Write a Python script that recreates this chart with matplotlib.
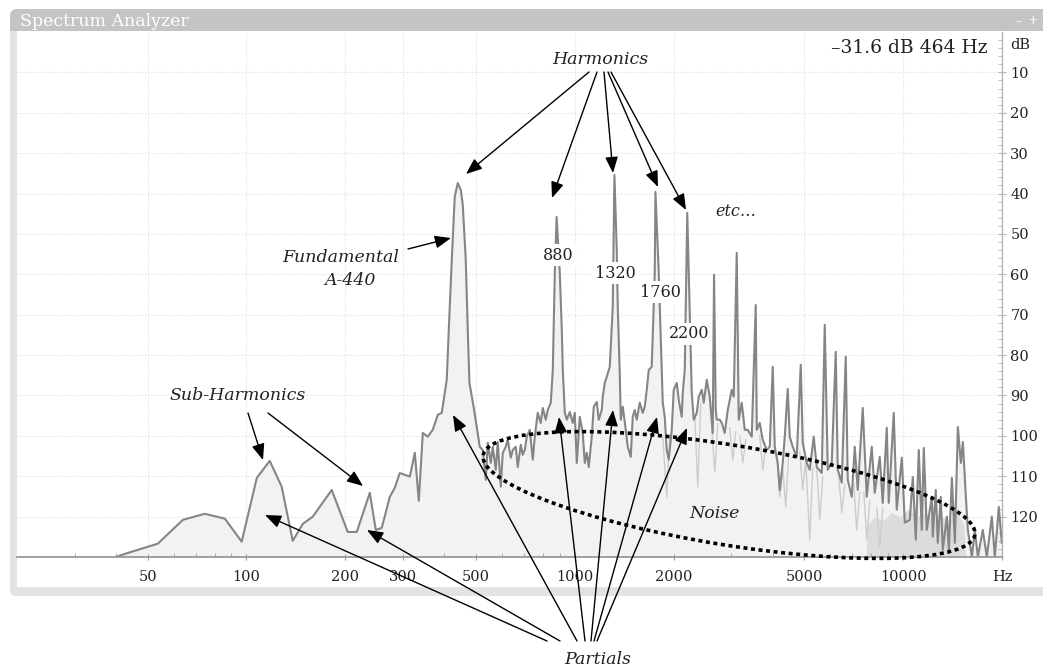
import matplotlib
matplotlib.use('Agg')
import matplotlib.pyplot as plt
from matplotlib.patches import FancyBboxPatch, Rectangle, Ellipse
from matplotlib.transforms import IdentityTransform
from matplotlib.ticker import FixedLocator, NullFormatter

W, H, DPI = 1043, 670, 100
nan = float('nan')

# ---------------- data ----------------
freq_hz = [40, 43.5, 53.7, 64.0, 74.6, 85.9, 96.7, 107.5, 117.7, 128.0,
           138.3, 148.4, 159.2, 181.8, 203.4, 216.7, 237.4, 247.6, 258.2, 273.2,
           282.8, 293.0, 314.4, 325.6, 334.8, 344.3, 356.6, 369.3, 382.4, 393.3,
           407.3, 413.1, 421.9, 430.8, 440, 449.4, 455.7, 465.4, 472.0, 477.5,
           492.2, 502.9, 513.4, 524.3, 535.5, 543.1, 554.6, 562.4, 574.4, 582.5,
           594.9, 603.3, 616.1, 624.8, 638.1, 647.1, 660.9, 670.2, 684.5, 694.1,
           704.0, 713.9, 729.1, 744.6, 755.1, 771.0, 787.4, 798.6, 815.6, 827.1,
           844.9, 856.8, 869.0, 880, 899.9, 912.6, 919.1, 932.1, 945.3, 965.4,
           985.6, 999.6, 1013.7, 1035.2, 1057.2, 1072.2, 1087.3, 1102.6, 1126.1, 1141.9,
           1166.3, 1182.7, 1207.9, 1216.4, 1233.6, 1251.0, 1277.6, 1304.8, 1320, 1341.9,
           1351.3, 1370.4, 1380.1, 1399.5, 1429.3, 1449.5, 1480.3, 1501.1, 1522.3, 1543.8,
           1576.6, 1610.1, 1632.9, 1656.0, 1679.4, 1715.0, 1751.5, 1760, 1801.3, 1839.6,
           1852.6, 1878.7, 1905.3, 1932.2, 1973.2, 2001.2, 2043.7, 2072.6, 2116.6, 2131.5,
           2161.6, 2200, 2254.5, 2270.5, 2302.6, 2351.5, 2384.7, 2435.4, 2469.8, 2522.1,
           2575.7, 2630.5, 2654.6, 2686.4, 2705.3, 2763.0, 2802.0, 2861.6, 2922.4, 3005.6,
           3048.0, 3112.8, 3156.7, 3223.8, 3292.3, 3362.3, 3457.9, 3556.3, 3581.3, 3657.5,
           3735.3, 3841.6, 3923.3, 4006.7, 4063.4, 4149.8, 4208.4, 4297.9, 4358.6, 4451.3,
           4514.1, 4610.1, 4741.2, 4876.1, 4945.0, 5085.6, 5193.8, 5341.5, 5455.1, 5649.8,
           5770.0, 5892.7, 6060.4, 6232.8, 6320.8, 6500.6, 6685.5, 6779.9, 6972.8, 7121.0,
           7272.5, 7532.1, 7746.2, 8022.7, 8193.4, 8486.1, 8666.4, 8912.9, 9039, 9361.4,
           9560.5, 9904.5, 10115, 10476, 10699, 10926, 11158, 11395, 11556, 11801,
           12222, 12308, 12569, 12747, 13018, 13202, 13588, 13780, 14072, 14371,
           14676, 14988, 15200, 15523, 15742, 16190, 16534, 16886, 17481, 17979,
           18621, 19017, 19558, 19974]
level_db = [130, 129.0, 126.7, 120.8, 119.3, 120.5, 126.2, 110.4, 106.2, 112.6,
            126.0, 121.8, 120.0, 113.4, 123.8, 123.8, 114.1, 123.3, 122.8, 115.1,
            112.9, 109.2, 110.1, 104.2, 116.1, 99.3, 100.2, 98.5, 94.8, 94.3,
            86.1, 73.8, 56.4, 40.8, 37.4, 39.1, 42.8, 56.4, 73.8, 86.9,
            93.0, 98.0, 102.7, 103.5, 110.9, 101.7, 106.7, 102.7, 108.4, 101.5,
            112.6, 104.2, 102.7, 101.0, 105.4, 103.5, 102.7, 107.7, 102.2, 104.7,
            103.5, 100.2, 98.5, 105.9, 100.2, 94.3, 96.8, 93.1, 96.0, 93.6,
            91.8, 83.7, 59.7, 45.8, 59.7, 73.8, 83.7, 94.3, 96.0, 94.1,
            96.8, 94.3, 106.7, 95.3, 99.3, 106.7, 104.2, 107.7, 100.2, 92.8,
            91.6, 96.0, 93.6, 90.3, 86.9, 85.4, 82.9, 68.1, 35.4, 54.0,
            68.1, 84.4, 96.0, 92.8, 98.5, 102.7, 105.2, 95.3, 93.6, 96.0,
            91.8, 94.3, 92.8, 88.6, 83.7, 82.9, 59.7, 39.6, 59.7, 83.7,
            91.8, 95.3, 103.5, 105.9, 98.5, 88.6, 86.9, 91.1, 95.3, 89.4,
            83.7, 44.8, 79.5, 89.4, 96.0, 94.3, 90.3, 88.6, 91.8, 86.1,
            90.3, 99.3, 60.1, 93.6, 96.0, 96.0, 96.8, 99.3, 93.6, 88.6,
            90.3, 54.7, 96.0, 91.8, 98.5, 98.5, 100.2, 67.6, 98.5, 96.8,
            101.0, 103.5, 102.7, 82.9, 102.7, 106.7, 113.4, 106.7, 100.2, 88.4,
            100.2, 102.7, 105.2, 82.4, 101.7, 106.7, 108.4, 100.2, 107.7, 109.2,
            72.5, 108.4, 106.7, 79.2, 108.4, 111.6, 80.4, 110.9, 115.1, 102.7,
            113.4, 93.1, 115.1, 102.7, 114.1, 105.2, 116.6, 98.0, 116.6, 94.3,
            118.3, 105.4, 121.5, 120.8, 110.2, 125.7, 103.5, 123.3, 103.0, 123.3,
            115.1, 125.0, 113.4, 126.5, 115.1, 128.2, 120.0, 128.2, 110.4, 126.5,
            97.8, 106.7, 101.5, 115.1, 123.3, 130, 123.3, 130, 123.3, 130,
            120.0, 130, 117.6, 126.5]

# faint secondary trace (light spikes below the main trace)
light_hz = [1852.6, 1905.3, 1945.8, nan, 2318.8, 2368.0, 2418.3, nan, 2612, 2668, 2724.7, nan,
            2963.8, 3026.8, 3091, nan, 3180.5, 3248, 3317.3, nan, 3657.5, 3735.3, 3814.8, nan,
            4120.8, 4208.4, 4297.9, 4389.3, 4482.6, nan, 4841.9, 4945, 5050, 5193.8, 5304.2, nan,
            5455, 5571.2, 5689.6, nan, 6365.3, 6500.6, 6638.8, nan, 7071, 7221.7, 7375.3, nan,
            7587, 7746, 7913, nan, 8310, 8486, 8666]
light_db = [100, 115.1, 100, nan, 95, 112.6, 92, nan, 98, 109, 97, nan,
            98, 106, 99, nan, 100, 106.7, 101, nan, 100, 108.4, 103, nan,
            105, 115.1, 108, 117.6, 104, nan, 104, 113.4, 106, 125.7, 108, nan,
            108, 120.8, 110, nan, 110, 119, 112, nan, 112, 123.3, 114, nan,
            114, 125.7, 116, nan, 118, 127.5, 118]

hold_hz = [7700, 7800, 8200, 8700, 9200, 9800, 10400, 11000, 11700, 12400, 13100, 13900, 14600, 15300, 15500]
hold_db = [130, 122, 120, 121, 119, 120, 118, 120, 119, 121, 120, 121, 119, 122, 130]

x_ticks = [50, 100, 200, 300, 500, 1000, 2000, 5000, 10000, 20000]
x_tick_labels = ['50', '100', '200', '300', '500', '1000', '2000', '5000', '10000', 'Hz']
x_minor = [30, 40, 60, 70, 80, 90, 400, 600, 700, 800, 900, 3000, 4000, 6000, 7000, 8000, 9000]
y_ticks = [10, 20, 30, 40, 50, 60, 70, 80, 90, 100, 110, 120]
y_tick_labels = [str(v) for v in y_ticks]
y_minor = [v for v in range(2, 130, 2) if v % 10]
harmonic_labels = ['880', '1320', '1760', '2200']

plt.rcParams['font.family'] = ['DejaVu Serif']

fig = plt.figure(figsize=(W / DPI, H / DPI), dpi=DPI)
fig.patch.set_facecolor('white')
ident = IdentityTransform()


def P(px, py):
    return (px / W, 1 - py / H)


def box(x0, y0, x1, y1, color, r=0, z=0):
    if r:
        p = FancyBboxPatch((x0, H - y1), x1 - x0, y1 - y0,
                           boxstyle=f'round,pad=0,rounding_size={r}',
                           transform=ident, fc=color, ec='none', zorder=z)
    else:
        p = Rectangle((x0, H - y1), x1 - x0, y1 - y0, transform=ident,
                      fc=color, ec='none', zorder=z)
    fig.add_artist(p)


# window frame
box(10, 587, 1060, 596, '#e3e3e3', r=6)
box(10, 20, 17, 590, '#e3e3e3')
box(10, 9, 1060, 31, '#c4c4c4', r=7)
box(10, 22, 1060, 31, '#c4c4c4')
fig.text(*P(20, 21), 'Spectrum Analyzer', color='white', fontsize=12.5, va='center', ha='left')
fig.text(*P(1019, 22), '–', color='white', fontsize=9, va='center', ha='center')
fig.text(*P(1033, 21), '+', color='white', fontsize=9, va='center', ha='center')

# plot area
ax = fig.add_axes([17 / W, 1 - 557 / H, (1002 - 17) / W, (557 - 32) / H])
ax.set_facecolor('white')
ax.set_xscale('log')
ax.set_xlim(20, 20000)
ax.set_ylim(130, 0)

ax.fill_between(freq_hz, level_db, 130, color='#f2f2f2', lw=0, zorder=1)
ax.fill_between(hold_hz, hold_db, 130, color='#dcdcdc', lw=0, zorder=1.5)
ax.plot(light_hz, light_db, color='#cccccc', lw=1.0, zorder=1.8)
ax.plot(freq_hz, level_db, color='#858585', lw=1.5, zorder=2, solid_joinstyle='round')

ax.xaxis.set_major_locator(FixedLocator(x_ticks))
ax.set_xticklabels(x_tick_labels)
ax.xaxis.set_minor_locator(FixedLocator(x_minor))
ax.xaxis.set_minor_formatter(NullFormatter())
ax.yaxis.tick_right()
ax.set_yticks(y_ticks)
ax.set_yticklabels(y_tick_labels)
ax.yaxis.set_minor_locator(FixedLocator(y_minor))

for v in x_ticks[:-1]:
    ax.axvline(v, color='#e0e0e0', lw=0.8, ls=(0, (1.2, 1.6)), zorder=0.5)
for v in y_ticks:
    ax.axhline(v, color='#e0e0e0', lw=0.8, ls=(0, (1.2, 1.6)), zorder=0.5)

for s in ['left', 'top']:
    ax.spines[s].set_visible(False)
ax.spines['bottom'].set_color('#9a9a9a')
ax.spines['bottom'].set_linewidth(1.3)
ax.spines['right'].set_color('#b5b5b5')
ax.spines['right'].set_linewidth(1.0)
ax.tick_params(axis='x', which='major', direction='inout', length=5, color='#9a9a9a',
               labelsize=10.5, labelcolor='#222222', pad=7)
ax.tick_params(axis='x', which='minor', direction='in', length=3, color='#9a9a9a')
ax.tick_params(axis='y', which='major', direction='inout', length=6, color='#b5b5b5',
               labelsize=10.5, labelcolor='#222222', pad=3)
ax.tick_params(axis='y', which='minor', direction='in', length=3, color='#b5b5b5')
ax.text(1.008, 3.2, 'dB', transform=ax.get_yaxis_transform(), fontsize=10.5,
        color='#222222', va='center', ha='left', clip_on=False)

# readout
fig.text(*P(988, 48), '–31.6 dB 464 Hz', fontsize=13.5, ha='right', va='center', color='#222222')

# ---------------- annotations ----------------
ARW = dict(arrowstyle='-|>,head_length=0.75,head_width=0.3', mutation_scale=13,
           color='black', lw=1.0, shrinkA=0, shrinkB=0)


def arrow(tail, head):
    ax.annotate('', xy=P(*head), xycoords='figure fraction', xytext=P(*tail),
                textcoords='figure fraction', arrowprops=ARW, annotation_clip=False, zorder=12)


def label(px, py, s, italic=True, size=12.5, **kw):
    fig.text(*P(px, py), s, fontsize=size, style='italic' if italic else 'normal',
             ha='center', va='center', color='#222222', zorder=13, **kw)


label(600, 60, 'Harmonics')
for tail, head in [((589, 72), (466, 174)), ((597, 72), (552, 198)), ((604, 72), (613, 173)),
                   ((608, 72), (658, 187)), ((611, 72), (686, 210))]:
    arrow(tail, head)

label(341, 258, 'Fundamental')
label(350, 281, 'A-440')
arrow((408, 249), (451, 238))

label(238, 396, 'Sub-Harmonics')
arrow((248, 413), (263, 460))
arrow((268, 413), (363, 486))

bb = dict(boxstyle='square,pad=0.15', fc='white', ec='none')
for (px, py), s in zip([(558, 255), (615, 273), (660, 292), (689, 334)], harmonic_labels):
    label(px, py, s, italic=False, size=11.5, bbox=bb)
label(736, 212, 'etc…', size=11.5)

noise = Ellipse((729, H - 495), 498, 100, angle=-9.2, transform=ident, fill=False,
                ec='black', lw=2.6, ls=(0, (1.1, 1.0)), zorder=11)
fig.add_artist(noise)
label(715, 513, 'Noise')

label(598, 659, 'Partials')
for tail, head in [((547, 641), (265, 515)), ((560, 641), (367, 530)), ((577, 641), (453, 415)),
                   ((585, 641), (559, 417)), ((591, 641), (613, 410)), ((594, 641), (657, 417)),
                   ((597, 641), (687, 428))]:
    arrow(tail, head)

fig.savefig('out.png', dpi=DPI, facecolor='white')
